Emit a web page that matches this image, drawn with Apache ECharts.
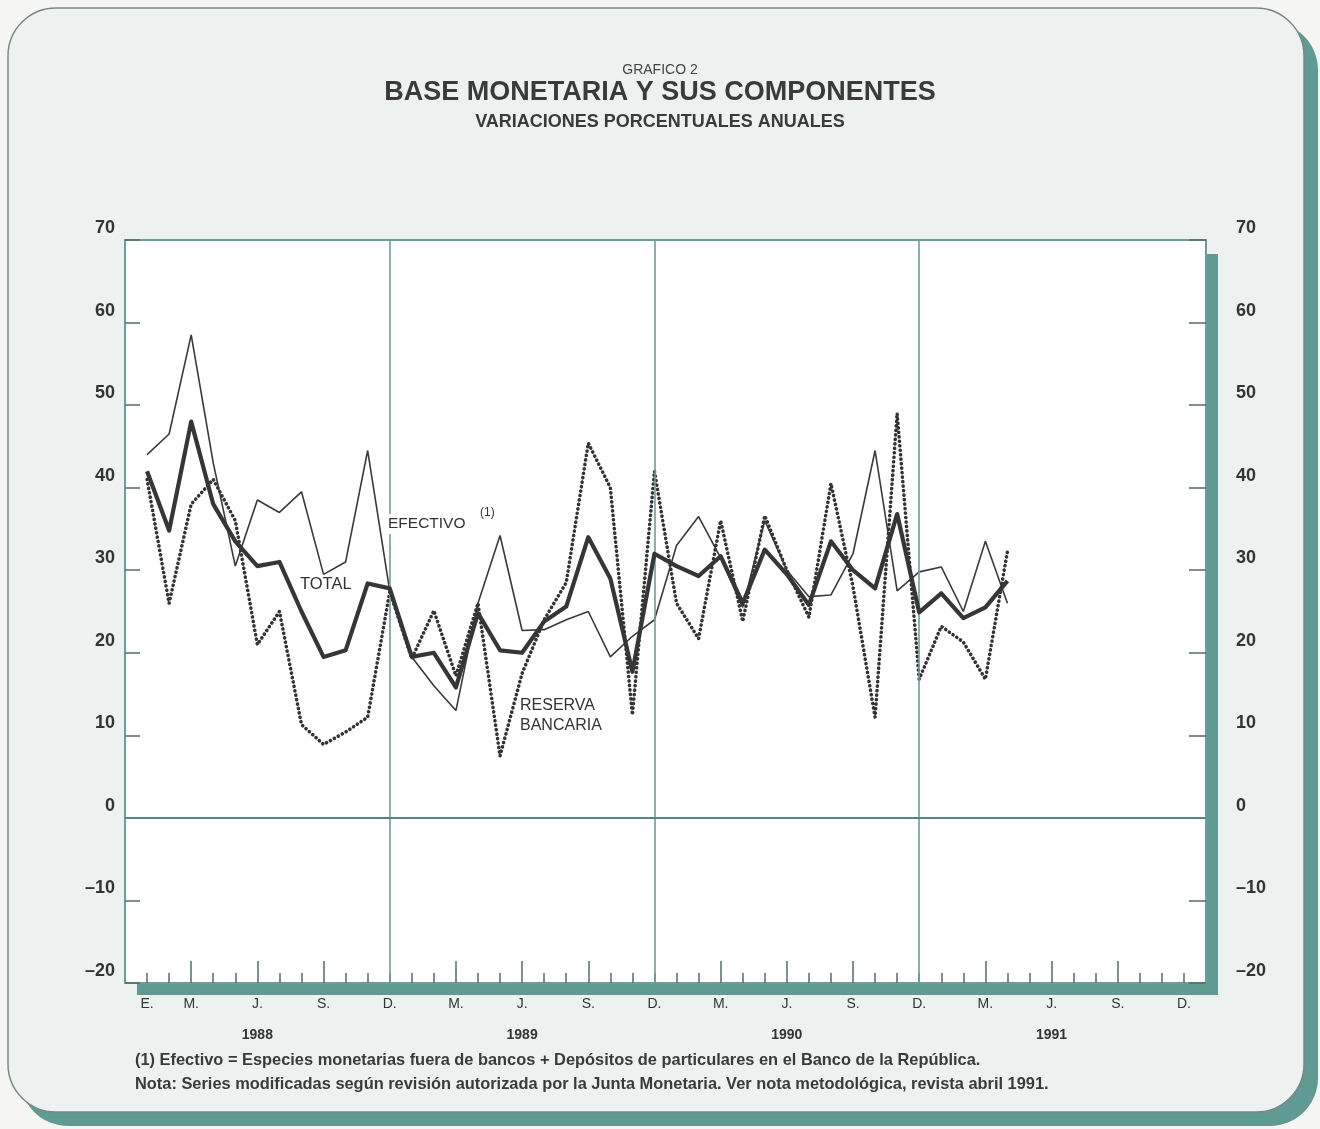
<!DOCTYPE html>
<html>
<head>
<meta charset="utf-8">
<script src="https://cdn.jsdelivr.net/npm/echarts@6/dist/echarts.min.js"></script>
<style>
html,body{margin:0;padding:0;background:#f5f5f3;}
#c{width:1320px;height:1129px;}
</style>
</head>
<body>
<div id="c"></div>
<script>
// Monthly annual % variations, Jan 1988 .. Apr 1991 (index 0 = Jan 1988)
const efectivo = [44, 46.5, 58.5, 43, 30.5, 38.5, 37, 39.5, 29.5, 31, 44.5, 27.5,
                  19.5, 16, 13, 26, 34.2, 22.7, 22.8, 24, 25, 19.5, 22, 24,
                  33, 36.5, 31.5, 25.5, 36, 30, 26.8, 27, 32, 44.5, 27.5, 29.8,
                  30.4, 25, 33.5, 26];
const total    = [42, 34.8, 48, 38, 33.5, 30.5, 31, 25, 19.5, 20.3, 28.4, 27.8,
                  19.5, 20, 15.8, 24.8, 20.3, 20, 23.8, 25.6, 34, 29, 17.7, 32,
                  30.5, 29.3, 31.7, 26, 32.5, 29.5, 25.8, 33.5, 30, 27.8, 36.8, 24.9,
                  27.2, 24.2, 25.5, 28.7];
const reserva  = [41, 26, 38, 41, 36, 21, 25, 11.3, 8.9, 10.4, 12.2, 27.4,
                  19.3, 25.1, 17.2, 26, 7.5, 17.5, 24, 28.5, 45.4, 40, 12.5, 42,
                  26, 21.7, 36, 23.8, 36.6, 30, 24.3, 40.5, 28, 12.2, 49, 16.8,
                  23.2, 21.3, 16.8, 32.3];

// Axis ticks / labels (month index, 0 = Jan 1988, 47 = Dec 1991)
const monthTicks   = [0,1,2,3,4,5,6,7,8,9,10,11,12,13,14,15,16,17,18,19,20,21,22,23,
                      24,25,26,27,28,29,30,31,32,33,34,35,36,37,38,39,40,41,42,43,44,45,46,47];
const quarterTicks = [2,5,8,14,17,20,26,29,32,38,41,44];
const decLines     = [11,23,35];
const monthLabelPos  = [0,2,5,8,11,14,17,20,23,26,29,32,35,38,41,44,47];
const monthLabelText = ['E.','M.','J.','S.','D.','M.','J.','S.','D.','M.','J.','S.','D.','M.','J.','S.','D.'];
const yearPos   = [5,17,29,41];
const yearText  = ['1988','1989','1990','1991'];

const FONT = '"Liberation Sans", Arial, Helvetica, sans-serif';
const TEAL = '#5f9a93';
const LINE = '#6f9e99';
const INK  = '#333333';

const chart = echarts.init(document.getElementById('c'), null, {renderer:'canvas'});

const toPairs = arr => arr.map((v,i)=>[i,v]);
const labelMap = {}; monthLabelPos.forEach((p,i)=>labelMap[p]=monthLabelText[i]);
const yearMap = {}; yearPos.forEach((p,i)=>yearMap[p]=yearText[i]);

const xBase = {type:'value', min:-1, max:48, position:'bottom', offset:0,
  axisLine:{show:false, onZero:false}, splitLine:{show:false}};

const yFmt = v => v < 0 ? '\u2013' + Math.abs(v) : String(v);

chart.setOption({
  animation:false,
  backgroundColor:'transparent',
  title:[
    {text:'GRAFICO 2', left:'center', top:58,
     textStyle:{fontFamily:FONT, fontSize:14, fontWeight:'normal', color:'#444'}},
    {text:'BASE MONETARIA Y SUS COMPONENTES', left:'center', top:74,
     textStyle:{fontFamily:FONT, fontSize:27, fontWeight:'bold', color:'#3a3a3a'}},
    {text:'VARIACIONES PORCENTUALES ANUALES', left:'center', top:108,
     textStyle:{fontFamily:FONT, fontSize:18, fontWeight:'bold', color:'#3a3a3a'}}
  ],
  grid:{left:125, right:114, top:240, bottom:146, show:true,
        backgroundColor:'#ffffff', borderColor:LINE, borderWidth:2},
  xAxis:[
    Object.assign({}, xBase, {
      axisTick:{show:true, inside:true, length:10, customValues:monthTicks,
                lineStyle:{color:'#4f6d6a', width:1.5}},
      axisLabel:{show:true, customValues:monthLabelPos, formatter:v=>labelMap[v]||'',
                 margin:14, fontFamily:FONT, fontSize:14, color:INK}
    }),
    Object.assign({}, xBase, {
      axisTick:{show:true, inside:true, length:22, customValues:quarterTicks,
                lineStyle:{color:'#4f6d6a', width:1.5}},
      axisLabel:{show:false}
    }),
    Object.assign({}, xBase, {
      axisTick:{show:false},
      axisLabel:{show:true, customValues:yearPos, formatter:v=>yearMap[v]||'',
                 margin:45, fontFamily:FONT, fontSize:14, fontWeight:'bold', color:INK}
    })
  ],
  yAxis:[
    {type:'value', min:-20, max:70, interval:10, position:'left',
     axisLine:{show:false, onZero:false}, splitLine:{show:false},
     axisTick:{show:true, inside:true, length:15, lineStyle:{color:'#4f6d6a', width:1.5}},
     axisLabel:{margin:10, fontFamily:FONT, fontSize:18, fontWeight:'bold', color:INK,
                formatter:yFmt, verticalAlign:'bottom', lineHeight:24}},
    {type:'value', min:-20, max:70, interval:10, position:'right',
     axisLine:{show:false, onZero:false}, splitLine:{show:false},
     axisTick:{show:true, inside:true, length:17, lineStyle:{color:'#4f6d6a', width:1.5}},
     axisLabel:{margin:30, fontFamily:FONT, fontSize:18, fontWeight:'bold', color:INK,
                formatter:yFmt, verticalAlign:'bottom', lineHeight:24}}
  ],
  series:[
    {type:'line', name:'grid', data:[], xAxisIndex:0, yAxisIndex:0, z:1, silent:true,
     markLine:{silent:true, symbol:'none', label:{show:false}, animation:false,
       lineStyle:{color:LINE, width:1.6, type:'solid'},
       data: decLines.map(d=>({xAxis:d})).concat([{yAxis:0, lineStyle:{color:'#4e8882', width:2, type:'solid'}}])}},
    {type:'line', name:'EFECTIVO', data:toPairs(efectivo), xAxisIndex:0, yAxisIndex:0,
     symbol:'none', z:3, lineStyle:{color:'#3a3a3a', width:1.6}},
    {type:'line', name:'RESERVA BANCARIA', data:toPairs(reserva), xAxisIndex:0, yAxisIndex:0,
     symbol:'none', z:4, lineStyle:{color:'#333', width:3.6, type:[0.1,4.4], cap:'round', join:'round'}},
    {type:'line', name:'TOTAL', data:toPairs(total), xAxisIndex:0, yAxisIndex:0,
     symbol:'none', z:5, lineStyle:{color:'#363636', width:4.2, join:'round'}}
  ],
  graphic:[
    {type:'rect', z:-30, silent:true, shape:{x:20, y:22, width:1298, height:1104, r:48},
     style:{fill:TEAL}},
    {type:'rect', z:-29, silent:true, shape:{x:8, y:8, width:1296, height:1104, r:48},
     style:{fill:'#edf1f0', stroke:'#7d8886', lineWidth:1.5}},
    {type:'rect', z:-28, silent:true, shape:{x:137, y:254, width:1081, height:741},
     style:{fill:TEAL}},
    {type:'text', z:50, left:386, top:514,
     style:{text:'EFECTIVO', fontFamily:FONT, fontSize:15.5, fill:INK,
            backgroundColor:'#ffffff', padding:[2,2,2,2]}},
    {type:'text', z:50, left:480, top:507,
     style:{text:'(1)', fontFamily:FONT, fontSize:12, fill:INK}},
    {type:'text', z:50, left:300, top:576,
     style:{text:'TOTAL', fontFamily:FONT, fontSize:16.5, fill:INK}},
    {type:'text', z:50, left:520, top:696,
     style:{text:'RESERVA\nBANCARIA', fontFamily:FONT, fontSize:16, lineHeight:20, fill:INK}},
    {type:'text', z:50, left:135, top:1052,
     style:{text:'(1) Efectivo = Especies monetarias fuera de bancos + Depósitos de particulares en el Banco de la República.',
            fontFamily:FONT, fontSize:16.4, fontWeight:'bold', fill:'#3a3a3a'}},
    {type:'text', z:50, left:135, top:1076,
     style:{text:'Nota: Series modificadas según revisión autorizada por la Junta Monetaria. Ver nota metodológica, revista abril 1991.',
            fontFamily:FONT, fontSize:16.4, fontWeight:'bold', fill:'#3a3a3a'}}
  ]
});
</script>
</body>
</html>
